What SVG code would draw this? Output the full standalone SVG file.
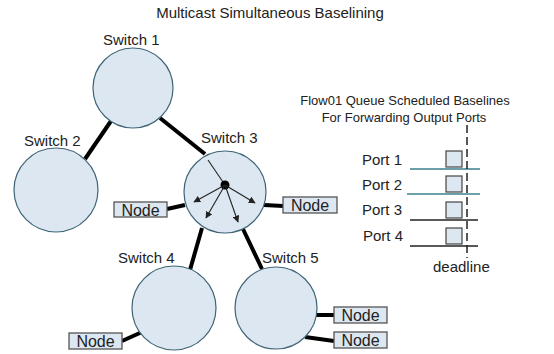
<svg xmlns="http://www.w3.org/2000/svg" width="554" height="354" viewBox="0 0 554 354">
<defs>
<style>
text{font-family:"Liberation Sans",Arial,sans-serif;fill:#222}
.sw{fill:#dde7f1;stroke:#3e6476;stroke-width:1.2}
.lbl{font-size:15px}
.nb{fill:#dde7f1;stroke:#555;stroke-width:1.3}
.nt{font-size:16px;text-anchor:middle}
.edge{stroke:#000;stroke-width:4;fill:none}
.arr{stroke:#222;stroke-width:1.1;fill:none;marker-end:url(#ah)}
.pl{stroke-width:1.3;fill:none}
.pb{fill:#dde7f1;stroke:#444;stroke-width:1.2}
</style>
<marker id="ah" viewBox="0 0 10 10" refX="9" refY="5" markerWidth="7" markerHeight="7" markerUnits="userSpaceOnUse" orient="auto">
<path d="M0,0 L10,5 L0,10 z" fill="#222"/>
</marker>
</defs>
<rect width="554" height="354" fill="#fff"/>
<text x="270" y="18" font-size="15" text-anchor="middle">Multicast Simultaneous Baselining</text>

<g id="connectors">
<line class="edge" x1="111" y1="121" x2="85" y2="159"/>
<line class="edge" x1="160" y1="118" x2="205" y2="154"/>
<line class="edge" x1="167" y1="209" x2="185" y2="205"/>
<line class="edge" x1="264" y1="205" x2="283" y2="206"/>
<line class="edge" x1="202" y1="228" x2="190" y2="270"/>
<line class="edge" x1="243" y1="229" x2="262" y2="269"/>
<line class="edge" x1="122" y1="341" x2="142" y2="332"/>
<line class="edge" x1="316" y1="315" x2="334" y2="315"/>
<line class="edge" x1="305" y1="337" x2="334" y2="341"/>
</g>

<g id="switch1"><circle class="sw" cx="133" cy="88" r="40"/><text class="lbl" x="103" y="45">Switch 1</text></g>
<g id="switch2"><circle class="sw" cx="56" cy="190" r="42"/><text class="lbl" x="24" y="146">Switch 2</text></g>
<g id="switch3"><circle class="sw" cx="225" cy="192" r="41"/><text class="lbl" x="201" y="143">Switch 3</text>
<line x1="208" y1="160" x2="225" y2="185" stroke="#222" stroke-width="1.1"/>
<circle cx="225" cy="185" r="4.5" fill="#000"/>
<line class="arr" x1="225" y1="185" x2="194" y2="202"/>
<line class="arr" x1="225" y1="185" x2="206" y2="218"/>
<line class="arr" x1="225" y1="185" x2="238" y2="222"/>
<line class="arr" x1="225" y1="185" x2="255" y2="203"/>
</g>
<g id="switch4"><circle class="sw" cx="174" cy="308" r="42"/><text class="lbl" x="118" y="263">Switch 4</text></g>
<g id="switch5"><circle class="sw" cx="276" cy="308" r="41"/><text class="lbl" x="262" y="263">Switch 5</text></g>

<g id="node1"><rect class="nb" x="114" y="202" width="53" height="15"/><text class="nt" x="140.5" y="215.5">Node</text></g>
<g id="node2"><rect class="nb" x="283" y="197" width="54" height="16"/><text class="nt" x="310" y="210.5">Node</text></g>
<g id="node3"><rect class="nb" x="69" y="333" width="53" height="16"/><text class="nt" x="95.5" y="346.5">Node</text></g>
<g id="node4"><rect class="nb" x="334" y="307" width="53" height="16"/><text class="nt" x="360.5" y="320.5">Node</text></g>
<g id="node5"><rect class="nb" x="334" y="332" width="53" height="16"/><text class="nt" x="360.5" y="345.5">Node</text></g>

<g id="schedule">
<text x="405" y="105" font-size="13" text-anchor="middle">Flow01 Queue Scheduled Baselines</text>
<text x="404" y="122" font-size="13" text-anchor="middle">For Forwarding Output Ports</text>
<text class="lbl" x="362" y="165">Port 1</text>
<text class="lbl" x="362" y="190">Port 2</text>
<text class="lbl" x="362" y="215">Port 3</text>
<text class="lbl" x="363" y="241">Port 4</text>
<line class="pl" stroke="#3d7f8f" x1="410" y1="169" x2="480" y2="169"/>
<line class="pl" stroke="#3d7f8f" x1="407" y1="194" x2="480" y2="194"/>
<line class="pl" stroke="#222" x1="410" y1="220" x2="478" y2="220"/>
<line class="pl" stroke="#222" x1="410" y1="246" x2="478" y2="246"/>
<rect class="pb" x="446" y="151" width="16" height="16"/>
<rect class="pb" x="446" y="176" width="16" height="16"/>
<rect class="pb" x="446" y="202" width="16" height="16"/>
<rect class="pb" x="446" y="228" width="16" height="16"/>
<line x1="467" y1="125" x2="467" y2="258" stroke="#222" stroke-width="1.5" stroke-dasharray="8,4"/>
<text class="lbl" x="433" y="272">deadline</text>
</g>
</svg>
